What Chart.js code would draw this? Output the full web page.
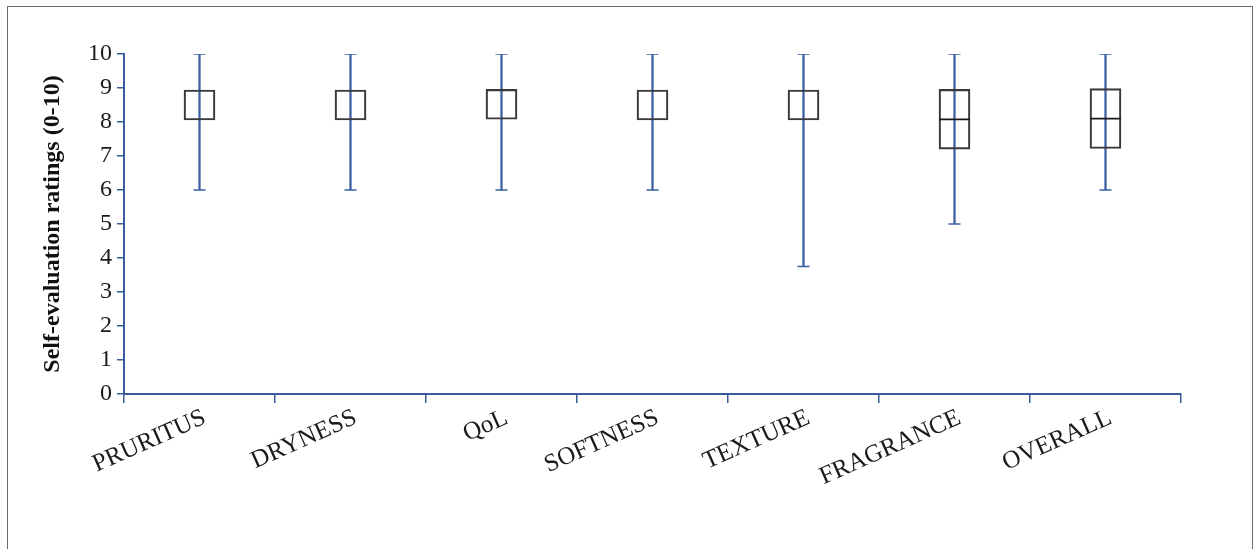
<!DOCTYPE html>
<html>
<head>
<meta charset="utf-8">
<script src="https://cdn.jsdelivr.net/npm/chart.js@4"></script>
<style>
  html, body { margin: 0; padding: 0; background: #fff; }
  #wrap { position: relative; width: 1255px; height: 549px; overflow: hidden; }
  #frame { position: absolute; left: 7px; top: 6px; width: 1246px; height: 600px; border: 1px solid #6b6b6b; box-sizing: border-box; }
  canvas { position: absolute; left: 0; top: 0; }
</style>
</head>
<body>
<div id="wrap">
  <div id="frame"></div>
  <canvas id="chart" width="1255" height="549"></canvas>
</div>
<script>
// Self-evaluation ratings per attribute (0-10 scale)
const categories = ['PRURITUS', 'DRYNESS', 'QoL', 'SOFTNESS', 'TEXTURE', 'FRAGRANCE', 'OVERALL'];
const minValues    = [6, 6, 6, 6, 3.75, 5, 6];
const q1Values     = [8.06, 8.06, 8.08, 8.06, 8.06, 7.2, 7.22];
const medianValues = [null, null, null, null, null, 8.08, 8.1];
const q3Values     = [8.94, 8.94, 8.96, 8.94, 8.94, 8.96, 8.98];
const maxValues    = [10, 10, 10, 10, 10, 10, 10];
const yTicks       = [0, 1, 2, 3, 4, 5, 6, 7, 8, 9, 10];

const AXIS_BLUE = '#3a5c9e';
const WHISKER_BLUE = '#3b5fa3';
const BOX_GREY = '#3a3a3a';
const SERIF = '"Liberation Serif", "Times New Roman", serif';

const whiskerRanges = categories.map((_, i) => [minValues[i], maxValues[i]]);
const boxRanges = categories.map((_, i) => [q1Values[i], q3Values[i]]);

new Chart(document.getElementById('chart'), {
  type: 'bar',
  data: {
    labels: categories,
    datasets: [
      {
        label: 'range',
        data: whiskerRanges,
        backgroundColor: WHISKER_BLUE,
        borderWidth: 0,
        barThickness: 1.6,
        grouped: false,
        order: 3
      },
      {
        label: 'box',
        data: boxRanges,
        backgroundColor: 'rgba(0,0,0,0)',
        borderColor: BOX_GREY,
        borderWidth: 1.5,
        borderSkipped: false,
        barThickness: 31,
        grouped: false,
        order: 2
      },
      {
        type: 'line',
        label: 'max',
        data: maxValues,
        showLine: false,
        pointStyle: 'line',
        pointRadius: 6,
        pointBorderWidth: 1.6,
        pointBorderColor: WHISKER_BLUE,
        order: 1
      },
      {
        type: 'line',
        label: 'min',
        data: minValues,
        showLine: false,
        pointStyle: 'line',
        pointRadius: 6,
        pointBorderWidth: 1.6,
        pointBorderColor: WHISKER_BLUE,
        order: 1
      },
      {
        type: 'line',
        label: 'median',
        data: medianValues,
        showLine: false,
        pointStyle: 'line',
        pointRadius: 15.5,
        pointBorderWidth: 1.8,
        pointBorderColor: '#1a1a1a',
        order: 0
      }
    ]
  },
  options: {
    responsive: false,
    animation: false,
    devicePixelRatio: 1,
    layout: { padding: { left: 0, right: 74, top: 54, bottom: 0 } },
    plugins: {
      legend: { display: false },
      tooltip: { enabled: false }
    },
    scales: {
      x: {
        type: 'category',
        offset: true,
        grid: {
          offset: true,
          drawOnChartArea: false,
          drawTicks: true,
          tickLength: 9,
          color: AXIS_BLUE,
          lineWidth: 1.5
        },
        border: { color: AXIS_BLUE, width: 2 },
        ticks: {
          color: '#1a1a1a',
          font: { family: SERIF, size: 25 },
          minRotation: 24,
          maxRotation: 24,
          padding: 0,
          labelOffset: 5,
          autoSkip: false
        },
        afterFit(scale) { scale.height = 155; }
      },
      y: {
        min: 0,
        max: 10,
        afterBuildTicks(scale) { scale.ticks = yTicks.map(v => ({ value: v })); },
        grid: {
          drawOnChartArea: false,
          drawTicks: true,
          tickLength: 7,
          color: AXIS_BLUE,
          lineWidth: 1.5
        },
        border: { color: AXIS_BLUE, width: 2 },
        ticks: {
          color: '#1a1a1a',
          font: { family: SERIF, size: 24 },
          padding: 5
        },
        title: {
          display: true,
          text: 'Self-evaluation ratings (0-10)',
          color: '#111',
          font: { family: SERIF, size: 24, weight: 'bold' },
          padding: { top: 38, bottom: 0 }
        },
        afterFit(scale) { scale.width = 124; }
      }
    }
  }
});
</script>
</body>
</html>
